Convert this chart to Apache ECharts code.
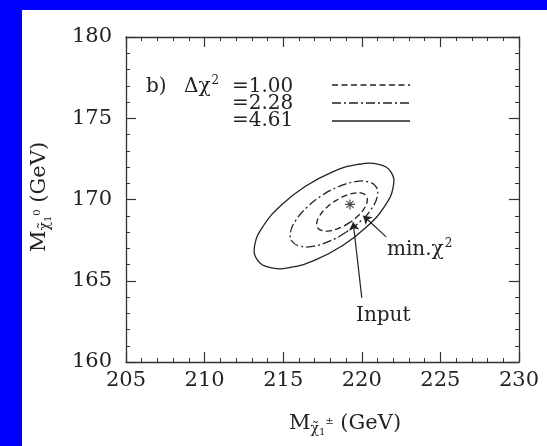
<!DOCTYPE html>
<html><head><meta charset="utf-8">
<script src="https://cdn.jsdelivr.net/npm/echarts@6/dist/echarts.min.js"></script>
<style>
html,body{margin:0;padding:0;background:#0000ff;width:547px;height:446px;overflow:hidden}
#panel{position:absolute;left:22px;top:10px;width:525px;height:436px;background:#ffffff}
#c{position:absolute;left:0;top:0;width:547px;height:446px}
</style></head><body>
<div id="panel"></div><div id="c"></div>
<script>
// ---- data ----
const xTicks = [205, 210, 215, 220, 225, 230];
const yTicks = [160, 165, 170, 175, 180];
const contourLevels = ['=1.00', '=2.28', '=4.61'];

// Δχ² = 1.00 (dashed) — closed contour, points in order
const contour100 = [[219.19,168.56],[218.56,168.24],[217.96,168.07],[217.48,168.08],[217.19,168.26],[217.14,168.59],[217.33,169.02],[217.73,169.48],[218.29,169.90],[218.92,170.22],[219.52,170.39],[220.00,170.39],[220.29,170.20],[220.34,169.87],[220.15,169.44],[219.75,168.98]];
// Δχ² = 2.28 (dash-dot)
const contour228 = [[218.99,167.98],[217.91,167.42],[216.88,167.12],[216.06,167.13],[215.56,167.43],[215.47,168.00],[215.81,168.73],[216.51,169.52],[217.47,170.25],[218.55,170.80],[219.58,171.10],[220.40,171.09],[220.90,170.79],[220.99,170.22],[220.66,169.49],[219.96,168.70]];
// Δχ² = 4.61 (solid)
const contour461 = [[218.81,167.18],[217.09,166.30],[215.44,165.82],[214.12,165.82],[213.33,166.31],[213.19,167.20],[213.73,168.37],[214.85,169.63],[216.39,170.80],[218.11,171.69],[219.76,172.16],[221.08,172.16],[221.87,171.67],[222.00,170.78],[221.47,169.61],[220.35,168.35]];

const inputPoint = [[219.25, 169.70]];
const inputArrow = [[220.00, 163.95], [219.45, 168.60]];
const minArrow = [[221.55, 167.70], [220.10, 169.00]];

// ---- chart ----
const INK = '#222';
const FONT = '"DejaVu Serif", serif';

function axis(pos, ticks, showLabel, margin) {
  return {
    type: 'value', position: pos,
    min: ticks[0], max: ticks[ticks.length - 1], interval: ticks[1] - ticks[0],
    axisLine: { show: true, onZero: false, lineStyle: { color: '#333', width: 1.3 } },
    axisTick: { show: true, inside: true, length: 10, lineStyle: { color: '#333', width: 1.2 } },
    minorTick: { show: true, splitNumber: 5, length: 4, lineStyle: { color: '#333', width: 1 } },
    splitLine: { show: false }, minorSplitLine: { show: false },
    axisLabel: { show: showLabel, fontFamily: FONT, fontSize: 21, color: INK, margin: margin,
                 showMinLabel: true, showMaxLabel: true },
    axisPointer: { show: false }
  };
}

const dash = [6, 3.5];
const dashDot = [9, 3, 2, 3];

function contourSeries(points, lineDash) {
  return {
    type: 'custom', data: points, silent: true, clip: false,
    encode: { x: 0, y: 1 },
    renderItem: function (params, api) {
      if (params.dataIndex !== 0) return null;
      const pts = points.map(function (p) { return api.coord(p); });
      return {
        type: 'polygon',
        shape: { points: pts, smooth: 0.45 },
        style: { fill: 'none', stroke: INK, lineWidth: 1.3, lineDash: lineDash }
      };
    }
  };
}

const chart = echarts.init(document.getElementById('c'), null, { renderer: 'canvas' });

chart.setOption({
  animation: false,
  backgroundColor: 'transparent',
  grid: { left: 126, top: 37, width: 393, height: 325, outerBoundsMode: 'none' },
  xAxis: [axis('bottom', xTicks, true, 8), axis('top', xTicks, false, 8)],
  yAxis: [axis('left', yTicks, true, 14), axis('right', yTicks, false, 8)],
  series: [
    contourSeries(contour100, dash),
    contourSeries(contour228, dashDot),
    contourSeries(contour461, null),
    { type: 'lines', coordinateSystem: 'cartesian2d', silent: true,
      symbol: ['none', 'arrow'], symbolSize: 8,
      lineStyle: { color: INK, width: 1.2, opacity: 1 },
      data: [{ coords: inputArrow }, { coords: minArrow }] },
    { type: 'scatter', data: inputPoint, symbol: 'path://M0,5L10,5M5,0L5,10M1.5,1.5L8.5,8.5M8.5,1.5L1.5,8.5',
      symbolSize: 10, silent: true,
      itemStyle: { color: 'none', borderColor: INK, borderWidth: 1.2 } }
  ],
  graphic: [
    // legend
    { type: 'text', x: 146, y: 87, style: { text: 'b)', font: '20px ' + FONT, fill: INK, verticalAlign: 'middle' } },
    { type: 'text', x: 184, y: 87, style: { text: 'Δχ{s|2}', font: '20px ' + FONT, fill: INK, verticalAlign: 'middle',
        rich: { s: { fontSize: 12, fontFamily: FONT, fill: INK, padding: [0, 0, 12, 1] } } } },
    { type: 'text', x: 232, y: 87, style: { text: contourLevels[0], font: '20px ' + FONT, fill: INK, verticalAlign: 'middle' } },
    { type: 'text', x: 232, y: 104, style: { text: contourLevels[1], font: '20px ' + FONT, fill: INK, verticalAlign: 'middle' } },
    { type: 'text', x: 232, y: 121, style: { text: contourLevels[2], font: '20px ' + FONT, fill: INK, verticalAlign: 'middle' } },
    { type: 'line', shape: { x1: 332, y1: 85, x2: 410, y2: 85 }, style: { stroke: INK, lineWidth: 1.3, lineDash: dash } },
    { type: 'line', shape: { x1: 332, y1: 103, x2: 410, y2: 103 }, style: { stroke: INK, lineWidth: 1.3, lineDash: dashDot } },
    { type: 'line', shape: { x1: 332, y1: 121, x2: 410, y2: 121 }, style: { stroke: INK, lineWidth: 1.3 } },
    // annotations
    { type: 'text', x: 387, y: 250, style: { text: 'min.χ{s|2}', font: '20px ' + FONT, fill: INK, verticalAlign: 'middle',
        rich: { s: { fontSize: 12, fontFamily: FONT, fill: INK, padding: [0, 0, 12, 1] } } } },
    { type: 'text', x: 356, y: 316, style: { text: 'Input', font: '20px ' + FONT, fill: INK, verticalAlign: 'middle' } },
    // axis titles
    { type: 'text', x: 345, y: 424, style: { text: 'M{s|χ̃}{t|1}{u|±} (GeV)', font: '21px ' + FONT, fill: INK,
        align: 'center', verticalAlign: 'middle',
        rich: { s: { fontSize: 14, fontFamily: FONT, fill: INK, padding: [10, 0, 0, 0] },
                t: { fontSize: 10, fontFamily: FONT, fill: INK, padding: [16, 0, 0, 0] },
                u: { fontSize: 10, fontFamily: FONT, fill: INK, padding: [0, 0, 6, 0] } } } },
    { type: 'text', x: 40, y: 197, rotation: Math.PI / 2, style: { text: 'M{s|χ̃}{t|1}{u|0} (GeV)', font: '21px ' + FONT, fill: INK,
        align: 'center', verticalAlign: 'middle',
        rich: { s: { fontSize: 14, fontFamily: FONT, fill: INK, padding: [10, 0, 0, 0] },
                t: { fontSize: 10, fontFamily: FONT, fill: INK, padding: [16, 0, 0, 0] },
                u: { fontSize: 10, fontFamily: FONT, fill: INK, padding: [0, 0, 6, 0] } } } }
  ]
});
</script>
</body></html>
